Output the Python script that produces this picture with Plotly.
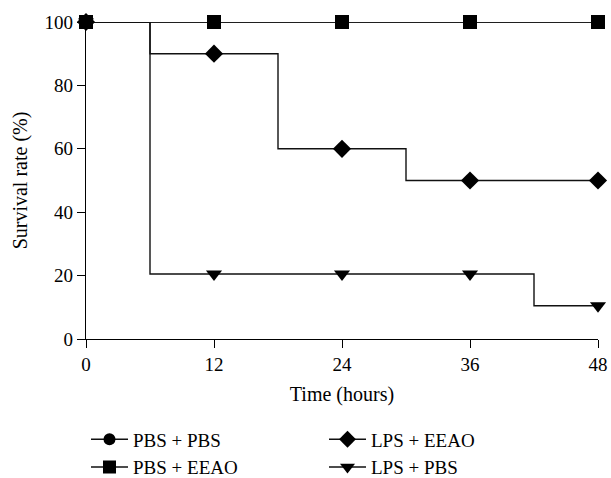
import plotly.graph_objects as go

# Step (Kaplan-Meier) data
pbs_pbs_t = [0, 48]
pbs_pbs_s = [100, 100]
pbs_eeao_t = [0, 48]
pbs_eeao_s = [100, 100]
lps_eeao_t = [0, 6, 18, 30, 48]
lps_eeao_s = [100, 90, 60, 50, 50]
lps_pbs_t = [0, 6, 42, 48]
lps_pbs_s = [100, 20.5, 10.5, 10.5]

# Marker (observation) points
obs_t = [0, 12, 24, 36, 48]
pbs_pbs_m = [100, 100, 100, 100, 100]
pbs_eeao_m = [100, 100, 100, 100, 100]
lps_eeao_m = [100, 90, 60, 50, 50]
lps_pbs_m = [100, 20.5, 20.5, 20.5, 10.5]

x_ticks = [0, 12, 24, 36, 48]
y_ticks = [0, 20, 40, 60, 80, 100]

series = [
    ("PBS + PBS", pbs_pbs_t, pbs_pbs_s, pbs_pbs_m, "circle", 13),
    ("LPS + EEAO", lps_eeao_t, lps_eeao_s, lps_eeao_m, "diamond", 14),
    ("PBS + EEAO", pbs_eeao_t, pbs_eeao_s, pbs_eeao_m, "square", 14),
    ("LPS + PBS", lps_pbs_t, lps_pbs_s, lps_pbs_m, "triangle-down", 14),
]

fig = go.Figure()
for name, t, s, m, sym, sz in series:
    fig.add_trace(go.Scatter(x=t, y=s, mode="lines", line=dict(color="#111", width=1.4, shape="hv"),
                             showlegend=False, hoverinfo="skip", cliponaxis=False))
for name, t, s, m, sym, sz in series:
    fig.add_trace(go.Scatter(x=obs_t, y=m, mode="markers", marker=dict(symbol=sym, size=sz, color="black"),
                             showlegend=False, cliponaxis=False))
for name, t, s, m, sym, sz in series:
    fig.add_trace(go.Scatter(x=[None], y=[None], mode="lines+markers", name=name,
                             line=dict(color="#111", width=1.4),
                             marker=dict(symbol=sym, size=sz - 1, color="black")))

font = "Liberation Serif"
fig.update_layout(
    width=611, height=478,
    margin=dict(l=86, r=13, t=22, b=139, autoexpand=False),
    plot_bgcolor="white", paper_bgcolor="white",
    font=dict(family=font, size=19, color="black"),
    xaxis=dict(range=[0, 48], tickvals=x_ticks, showgrid=False, zeroline=False,
               showline=True, linecolor="black", linewidth=1.4,
               ticks="outside", ticklen=8, tickwidth=1.4, tickcolor="black",
               title=dict(text="Time (hours)", standoff=12, font=dict(size=20))),
    yaxis=dict(range=[0, 100], tickvals=y_ticks, showgrid=False, zeroline=False,
               showline=True, linecolor="black", linewidth=1.4,
               ticks="outside", ticklen=8, tickwidth=1.4, tickcolor="black",
               title=dict(text="Survival rate (%)", standoff=11, font=dict(size=20))),
    legend=dict(orientation="h", x=0.0, xanchor="left", y=-0.257, yanchor="top",
                entrywidth=186, entrywidthmode="pixels", tracegroupgap=0,
                font=dict(family=font, size=19), itemwidth=37),
)
fig.write_html("out.html", config={"displayModeBar": False},
               post_script="document.body.style.margin='0';document.body.style.overflow='hidden';")
